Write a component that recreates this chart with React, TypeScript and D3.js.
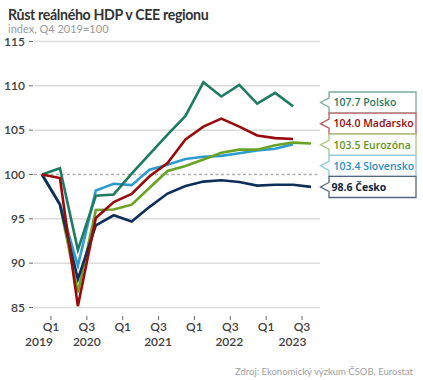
import React from "react";
import * as d3 from "d3";

const quarters = ["Q4 2019","Q1 2020","Q2 2020","Q3 2020","Q4 2020","Q1 2021","Q2 2021","Q3 2021","Q4 2021","Q1 2022","Q2 2022","Q3 2022","Q4 2022","Q1 2023","Q2 2023","Q3 2023"];
const polsko = [100, 100.7, 91.5, 97.6, 97.75, 100.1, 102.3, 104.5, 106.6, 110.4, 108.8, 110.1, 108.0, 109.2, 107.7];
const madarsko = [100, 99.6, 85.15, 95.1, 96.9, 97.8, 99.8, 101.3, 103.95, 105.4, 106.3, 105.4, 104.4, 104.1, 104.0];
const eurozona = [100, 96.6, 86.7, 96.0, 96.05, 96.6, 98.5, 100.4, 100.95, 101.7, 102.45, 102.8, 102.8, 103.3, 103.6, 103.5];
const slovensko = [100, 96.7, 89.7, 98.2, 98.95, 98.8, 100.55, 101.1, 101.75, 102.0, 102.1, 102.4, 102.7, 102.9, 103.4];
const cesko = [100, 96.6, 88.2, 94.25, 95.4, 94.7, 96.35, 97.85, 98.7, 99.2, 99.35, 99.15, 98.75, 98.85, 98.85, 98.6];
const seriesNames = ["Polsko", "Maďarsko", "Eurozóna", "Slovensko", "Česko"];
const yTicks = [85, 90, 95, 100, 105, 110, 115];
const xTickLabels = ["Q1", "Q3", "Q1", "Q3", "Q1", "Q3", "Q1", "Q3"];
const yearLabels = ["2019", "2020", "", "2021", "", "2022", "", "2023"];

const colors: Record<string, string> = {
  "Polsko": "#1f7a63",
  "Maďarsko": "#990a0c",
  "Eurozóna": "#6aa223",
  "Slovensko": "#2b9bd3",
  "Česko": "#0e2f5c",
};
const borderColors: Record<string, string> = {
  "Polsko": "#79ab9d",
  "Maďarsko": "#b85a5c",
  "Eurozóna": "#a7c97c",
  "Slovensko": "#8fc7e6",
  "Česko": "#556683",
};
const textColors: Record<string, string> = {
  "Polsko": "#1f7a63",
  "Maďarsko": "#990a0c",
  "Eurozóna": "#5f9420",
  "Slovensko": "#2a8ec4",
  "Česko": "#0e1f3c",
};

const dataByName: Record<string, number[]> = {
  "Polsko": polsko,
  "Maďarsko": madarsko,
  "Eurozóna": eurozona,
  "Slovensko": slovensko,
  "Česko": cesko,
};
const drawOrder = ["Slovensko", "Eurozóna", "Česko", "Polsko", "Maďarsko"];

export default function App() {
  const W = 423, H = 380;
  const x = d3.scaleLinear().domain([0, quarters.length - 1]).range([42, 311]);
  const y = d3.scaleLinear().domain([85, 115]).range([307.5, 41.5]);
  const line = d3.line<number>().x((_, i) => x(i)).y((d) => y(d));
  const font = "Lato, 'Noto Sans', sans-serif";
  const legendFont = "'Open Sans', 'Noto Sans', sans-serif";
  const fmt = d3.format(".1f");

  const boxX = 329, boxW = 87, boxH = 21.1, boxTop = 92;
  const yearDx = [-12, 0, 0, -0.5, 0, -1, 0, -9.5];

  return (
    <svg width={W} height={H} style={{ position: "absolute", left: 0, top: 0, fontFamily: font }}>
      <text x={8} y={20} fontSize={14.2} fontWeight={700} fill="#333" letterSpacing={-0.35}>Růst reálného HDP v CEE regionu</text>
      <text x={8} y={33} fontSize={11} fill="#9a9a9a">index, Q4 2019=100</text>

      {yTicks.map((t) => (
        <g key={t}>
          {t === 100 ? (
            <line x1={34} x2={320} y1={y(t)} y2={y(t)} stroke="#b0b0b0" strokeWidth={1.6} strokeDasharray="3,2.5" />
          ) : (
            <line x1={34} x2={320} y1={y(t)} y2={y(t)} stroke="#dcdcdc" strokeWidth={1.5} />
          )}
          <line x1={29} x2={33} y1={y(t)} y2={y(t)} stroke="#666" strokeWidth={1} />
          <text x={25} y={y(t) + 4} fontSize={12} fontWeight={600} fill="#404040" textAnchor="end">{t}</text>
        </g>
      ))}

      {xTickLabels.map((lab, k) => {
        const xi = x(2 * k + 0.5);
        return (
          <g key={k}>
            <line x1={xi} x2={xi} y1={316} y2={320} stroke="#666" strokeWidth={1} />
            <text x={xi} y={331} fontSize={12} fontWeight={600} fill="#404040" textAnchor="middle">{lab}</text>
            {yearLabels[k] && (
              <text x={xi + yearDx[k]} y={346} fontSize={12} fontWeight={600} fill="#404040" textAnchor="middle">{yearLabels[k]}</text>
            )}
          </g>
        );
      })}

      {drawOrder.map((name) => (
        <path key={name} d={line(dataByName[name]) || ""} fill="none" stroke={colors[name]} strokeWidth={2.6} strokeLinejoin="miter" />
      ))}

      {seriesNames.map((name, k) => {
        const vals = dataByName[name];
        const top = boxTop + k * boxH;
        const cy = top + boxH / 2;
        const p = `M${boxX},${top} H${boxX + boxW} V${top + boxH} H${boxX} V${cy + 4.5} L${boxX - 8.5},${cy} L${boxX},${cy - 4.5} Z`;
        return (
          <g key={name}>
            <path d={p} fill="#fff" stroke={borderColors[name]} strokeWidth={1.3} />
            <text x={name === "Česko" ? boxX + 2.5 : boxX + 4.5} y={cy + 3.8} fontFamily={legendFont} fontSize={10.5} fontWeight={name === "Česko" ? 700 : 600} fill={textColors[name]}>
              {fmt(vals[vals.length - 1])} {name}
            </text>
          </g>
        );
      })}

      <text x={413} y={375} fontSize={9.5} fill="#a0a0a0" textAnchor="end">Zdroj: Ekonomický výzkum ČSOB, Eurostat</text>
    </svg>
  );
}
